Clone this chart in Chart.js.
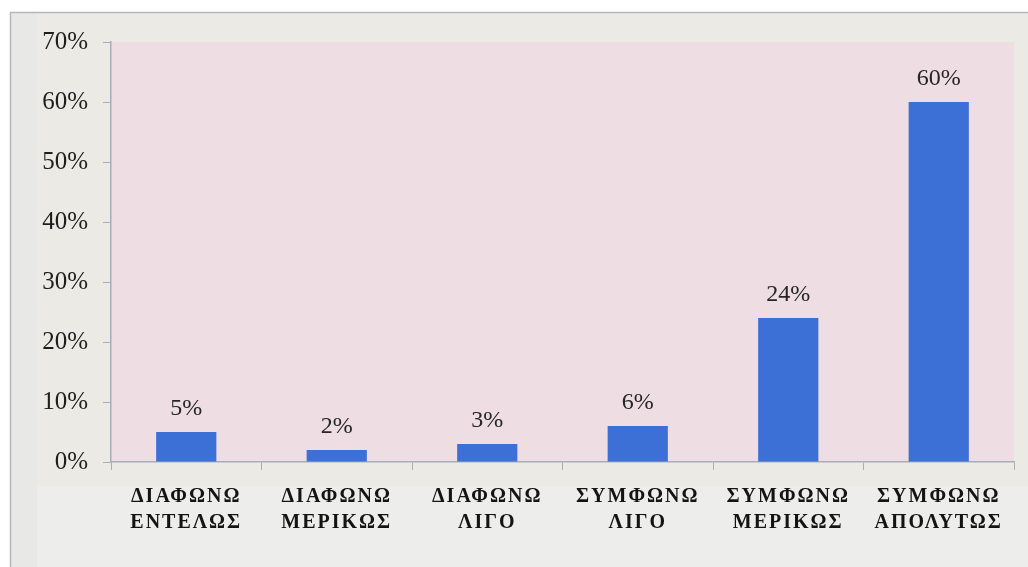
<!DOCTYPE html>
<html>
<head>
<meta charset="utf-8">
<title>Συμφωνία</title>
<script src="https://cdn.jsdelivr.net/npm/chart.js@4/dist/chart.umd.min.js"></script>
<style>
  html, body { margin: 0; padding: 0; background: #ffffff; }
  #wrap { width: 1028px; height: 567px; }
</style>
</head>
<body>
<div id="wrap"><canvas id="agreeChart" width="1028" height="567"></canvas></div>
<script>
// answer categories (two lines each) and share of responses in %
const categories = [
  ['ΔΙΑΦΩΝΩ', 'ΕΝΤΕΛΩΣ'],
  ['ΔΙΑΦΩΝΩ', 'ΜΕΡΙΚΩΣ'],
  ['ΔΙΑΦΩΝΩ', 'ΛΙΓΟ'],
  ['ΣΥΜΦΩΝΩ', 'ΛΙΓΟ'],
  ['ΣΥΜΦΩΝΩ', 'ΜΕΡΙΚΩΣ'],
  ['ΣΥΜΦΩΝΩ', 'ΑΠΟΛΥΤΩΣ']
];
const shares = [5, 2, 3, 6, 24, 60];
const yTicks = [0, 10, 20, 30, 40, 50, 60, 70];

const serif = '"Liberation Serif", "DejaVu Serif", serif';

// frame, grey side strip and pink plotting area behind everything
const backdrop = {
  id: 'backdrop',
  beforeDraw(chart) {
    const { ctx, chartArea: a } = chart;
    ctx.save();
    ctx.fillStyle = '#ebeae4';
    ctx.fillRect(10, 12, 1018, 555);
    ctx.fillStyle = '#e8e8e7';
    ctx.fillRect(10, 12, 27, 555);
    ctx.fillStyle = '#ededeb';
    ctx.fillRect(37, 486, 991, 81);
    ctx.strokeStyle = '#b3b6bd';
    ctx.lineWidth = 1.5;
    ctx.strokeRect(10.5, 12.5, 1020, 556);
    ctx.fillStyle = '#eedde2';
    ctx.fillRect(a.left, a.top, a.right - a.left, a.bottom - a.top);
    ctx.restore();

    // spaced lettering only for the category labels
    const xs = chart.scales.x;
    if (!xs._spaced) {
      const drawLabels = xs.drawLabels.bind(xs);
      xs.drawLabels = area => {
        ctx.letterSpacing = '2px';
        drawLabels(area);
        ctx.letterSpacing = '0px';
      };
      xs._spaced = true;
    }
  }
};

// value printed above each bar
const barValues = {
  id: 'barValues',
  afterDatasetsDraw(chart) {
    const { ctx } = chart;
    const meta = chart.getDatasetMeta(0);
    ctx.save();
    ctx.font = '24px ' + serif;
    ctx.fillStyle = '#262626';
    ctx.textAlign = 'center';
    ctx.textBaseline = 'alphabetic';
    meta.data.forEach((bar, i) => {
      ctx.fillText(shares[i] + '%', bar.x, bar.y - 17);
    });
    ctx.restore();
  }
};

new Chart(document.getElementById('agreeChart'), {
  type: 'bar',
  data: {
    labels: categories,
    datasets: [{
      data: shares,
      backgroundColor: '#3d70d7',
      barPercentage: 0.4,
      categoryPercentage: 1.0
    }]
  },
  options: {
    responsive: false,
    animation: false,
    layout: { padding: { top: 42, left: 30, right: 14, bottom: 20 } },
    plugins: {
      legend: { display: false },
      tooltip: { enabled: false }
    },
    scales: {
      x: {
        grid: {
          offset: true,
          drawOnChartArea: false,
          tickLength: 8,
          color: '#a8adb8'
        },
        border: { color: '#a8adb8', width: 1.5 },
        ticks: {
          padding: 14,
          color: '#141414',
          maxRotation: 0,
          autoSkip: false,
          font: { family: serif, size: 20, weight: 'bold', lineHeight: 1.28 }
        },
        afterFit(scale) { scale.height = 85; }
      },
      y: {
        min: 0,
        max: 70,
        afterBuildTicks(scale) { scale.ticks = yTicks.map(v => ({ value: v })); },
        grid: {
          drawOnChartArea: false,
          tickLength: 8,
          color: '#a8adb8'
        },
        border: { color: '#a8adb8', width: 1.5 },
        ticks: {
          padding: 15,
          color: '#1e1e1e',
          font: { family: serif, size: 25 },
          callback: v => v + '%'
        },
        afterFit(scale) { scale.width = 81; }
      }
    }
  },
  plugins: [backdrop, barValues]
});
</script>
</body>
</html>
